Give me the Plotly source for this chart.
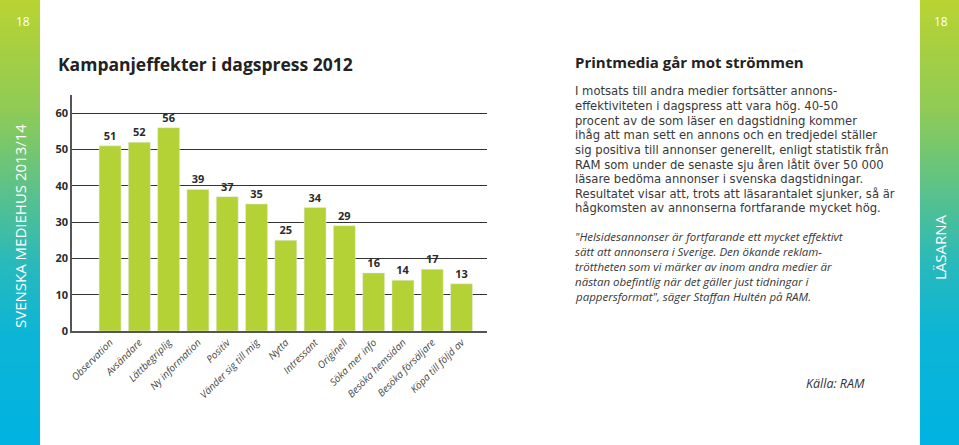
import plotly.graph_objects as go

categories = [
    "Observation", "Avsändare", "Lättbegriplig", "Ny information", "Positiv",
    "Vänder sig till mig", "Nytta", "Intressant", "Originell", "Söka mer info",
    "Besöka hemsidan", "Besöka försäljare", "Köpa till följd av",
]
values = [51, 52, 56, 39, 37, 35, 25, 34, 29, 16, 14, 17, 13]
y_ticks = [0, 10, 20, 30, 40, 50, 60]

body_lines = [
    "I motsats till andra medier fortsätter annons-",
    "effektiviteten i dagspress att vara hög. 40-50",
    "procent av de som läser en dagstidning kommer",
    "ihåg att man sett en annons och en tredjedel ställer",
    "sig positiva till annonser generellt, enligt statistik från",
    "RAM som under de senaste sju åren låtit över 50 000",
    "läsare bedöma annonser i svenska dagstidningar.",
    "Resultatet visar att, trots att läsarantalet sjunker, så är",
    "hågkomsten av annonserna fortfarande mycket hög.",
]
quote_lines = [
    "\"Helsidesannonser är fortfarande ett mycket effektivt",
    "sätt att annonsera i Sverige. Den ökande reklam-",
    "tröttheten som vi märker av inom andra medier är",
    "nästan obefintlig när det gäller just tidningar i",
    "pappersformat\", säger Staffan Hultén på RAM.",
]

W, H = 959, 445
L, R, T, B = 72, 487, 95, 331

BAR = "#b4d135"
DARK = "#2b2b2b"


def px(x):
    return (x - L) / (R - L)


def py(y):
    return (B - y) / (B - T)


def mix(c1, c2, t):
    a = [int(c1[i:i + 2], 16) for i in (1, 3, 5)]
    b = [int(c2[i:i + 2], 16) for i in (1, 3, 5)]
    return "rgb({},{},{})".format(*[round(a[k] + (b[k] - a[k]) * t) for k in range(3)])


stops = [(0.0, "#b9d332"), (0.25, "#8ecb57"), (0.45, "#55c090"),
         (0.6, "#27b9bd"), (0.75, "#0cb5d6"), (1.0, "#00b3e2")]


def grad(f):
    for (f0, c0), (f1, c1) in zip(stops, stops[1:]):
        if f <= f1:
            return mix(c0, c1, (f - f0) / (f1 - f0))
    return stops[-1][1]


shapes = []
step = 3
for y0 in range(0, H, step):
    c = grad((y0 + step / 2) / H)
    for x0, x1 in [(0, 40), (920, W)]:
        shapes.append(dict(
            type="rect", xref="paper", yref="paper", layer="below",
            x0=px(x0), x1=px(x1), y0=py(y0 + step + 0.5), y1=py(y0),
            fillcolor=c, line=dict(width=0),
        ))

fig = go.Figure(go.Bar(
    x=categories, y=values, marker_color=BAR, width=0.75,
    text=values, textposition="outside", cliponaxis=False,
    textfont=dict(family="Open Sans", size=11, color=DARK, weight="bold"),
))

annotations = [
    dict(text="<b>Kampanjeffekter i dagspress 2012</b>", x=px(56), y=py(64),
         font=dict(family="Open Sans", size=17.5, color="#222")),
    dict(text="<b>Printmedia går mot strömmen</b>", x=px(573), y=py(62),
         font=dict(family="Open Sans", size=15, color="#222")),
    dict(text="<i>Källa: RAM</i>", x=px(804), y=py(383),
         font=dict(family="Open Sans", size=12.5, color="#333")),
    dict(text="18", x=px(14), y=py(22),
         font=dict(family="Open Sans", size=12, color="white")),
    dict(text="18", x=px(932), y=py(22),
         font=dict(family="Open Sans", size=12, color="white")),
]
for i, line in enumerate(body_lines):
    annotations.append(dict(text=line, x=px(573), y=py(91.5 + i * 14.6),
                            font=dict(family="DejaVu Sans", size=11.6, color="#383838")))
for i, line in enumerate(quote_lines):
    annotations.append(dict(text="<i>" + line + "</i>", x=px(573), y=py(236.5 + i * 14.9),
                            font=dict(family="Open Sans", size=11.5, color="#383838")))
for a in annotations:
    a.update(xref="paper", yref="paper", xanchor="left", yanchor="middle", showarrow=False)

annotations += [
    dict(text="SVENSKA MEDIEHUS 2013/14", x=px(20), y=py(226), textangle=-90,
         font=dict(family="Open Sans", size=15, color="white")),
    dict(text="LÄSARNA", x=px(940), y=py(247), textangle=-90,
         font=dict(family="Open Sans", size=15, color="white")),
]
for a in annotations[-2:]:
    a.update(xref="paper", yref="paper", xanchor="center", yanchor="middle", showarrow=False)

fig.update_layout(
    width=W, height=H,
    margin=dict(l=L, r=W - R, t=T, b=H - B, pad=0),
    paper_bgcolor="white", plot_bgcolor="white",
    showlegend=False,
    shapes=shapes,
    annotations=annotations,
    xaxis=dict(
        range=[-1.3, 12.87], tickangle=-45, showline=True, linecolor="#555",
        linewidth=1.5, ticks="", showgrid=False,
        tickfont=dict(family="Open Sans", size=10, color="#444", style="italic"),
    ),
    yaxis=dict(
        range=[0, 65], tickvals=y_ticks, showline=True, linecolor="#555",
        linewidth=1.5, ticks="", showgrid=True, gridcolor="#333", gridwidth=1,
        zeroline=False,
        tickfont=dict(family="Open Sans", size=11, color=DARK, weight="bold"),
    ),
)

fig.write_html(
    "out.html",
    config={"displayModeBar": False},
    post_script="document.body.style.margin='0';document.body.style.overflow='hidden';",
)
